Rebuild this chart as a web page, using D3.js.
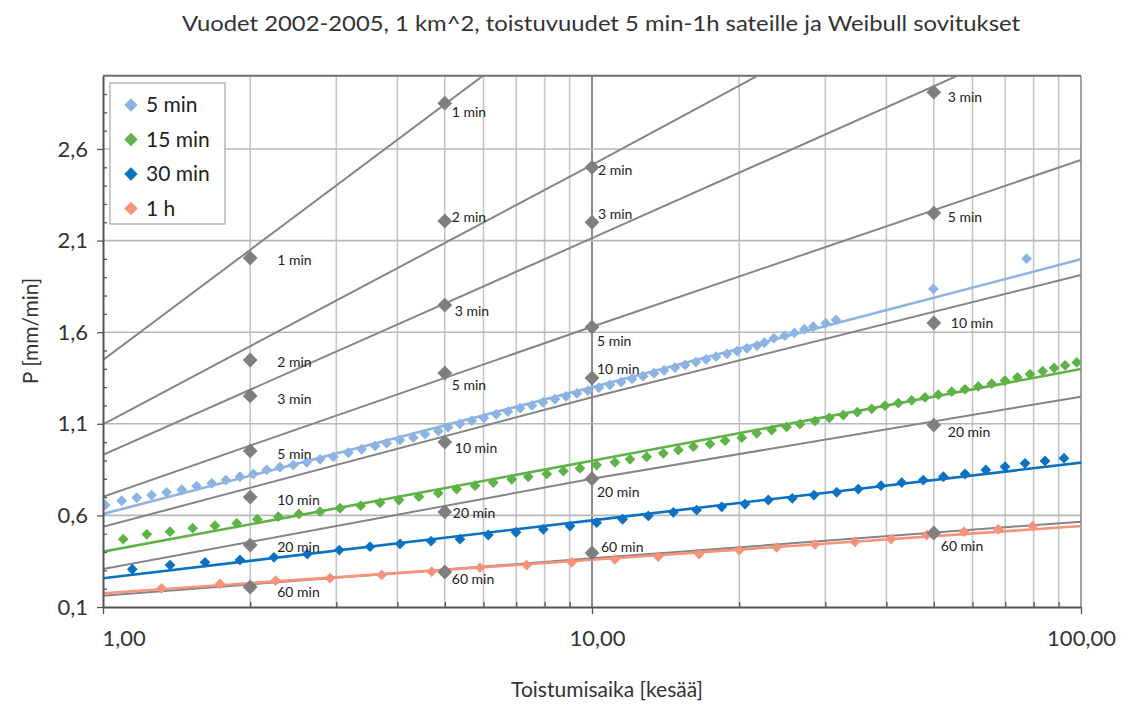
<!DOCTYPE html>
<html><head><meta charset="utf-8">
<script src="https://cdn.jsdelivr.net/npm/d3@7"></script>
<style>body{margin:0;background:#fff} svg{display:block} text{font-family:Lato,"Open Sans",sans-serif}</style>
</head><body><svg id="c" width="1124" height="705"></svg>
<script>
// ---------- DATA ----------
const titleText = "Vuodet 2002-2005, 1 km^2, toistuvuudet 5 min-1h sateille ja Weibull sovitukset";
const xTitle = "Toistumisaika [kesää]";
const yTitle = "P [mm/min]";
const xTickValues = [1, 10, 100];
const xTickLabels = ["1,00", "10,00", "100,00"];
const yTickValues = [0.1, 0.6, 1.1, 1.6, 2.1, 2.6];
const yTickLabels = ["0,1", "0,6", "1,1", "1,6", "2,1", "2,6"];

const seriesNames = ["5 min", "15 min", "30 min", "1 h"];
const pts5min = [[1.01,0.657],[1.092,0.680],[1.172,0.697],[1.257,0.711],[1.349,0.726],[1.449,0.740],[1.554,0.760],[1.669,0.775],[1.784,0.793],[1.906,0.811],[2.030,0.826],[2.161,0.848],[2.301,0.863],[2.449,0.875],[2.610,0.890],[2.779,0.906],[2.958,0.920],[3.175,0.942],[3.381,0.961],[3.600,0.979],[3.803,0.994],[4.049,1.012],[4.311,1.024],[4.556,1.043],[4.850,1.061],[5.08,1.081],
 [5.37,1.100],[5.68,1.117],[6.01,1.133],[6.37,1.152],[6.73,1.167],[7.13,1.185],[7.54,1.200],[7.94,1.217],[8.40,1.234],[8.85,1.250],[9.32,1.266],[9.81,1.281],[10.33,1.297],[10.88,1.313],[11.47,1.328],[12.07,1.345],[12.72,1.360],[13.39,1.376],[14.04,1.391],[14.78,1.406],[15.50,1.421],[16.32,1.437],[17.11,1.451],[17.93,1.466],[18.88,1.482],[19.80,1.497],[20.75,1.512],[21.75,1.527],
 [22.51,1.543],[23.56,1.567],[24.81,1.581],[25.93,1.596],[27.18,1.616],[28.35,1.630],[30.06,1.649],[31.55,1.667],[49.9,1.836],[77.4,2.001]];
const pts15min = [[1.100,0.470],[1.229,0.497],[1.371,0.511],[1.525,0.530],[1.694,0.544],[1.877,0.557],[2.068,0.579],[2.283,0.593],[2.516,0.608],[2.778,0.620],[3.053,0.639],[3.365,0.653],[3.686,0.669],[4.031,0.684],[4.428,0.702],[4.850,0.721],
 [5.288,0.744],[5.765,0.762],[6.284,0.779],[6.853,0.797],[7.407,0.811],[8.08,0.826],[8.74,0.842],[9.45,0.857],[10.22,0.875],[11.14,0.890],[11.96,0.906],[12.94,0.920],[13.99,0.939],[15.02,0.957],[16.12,0.975],[17.43,0.990],[18.71,1.008],[20.24,1.024],[21.72,1.048],[23.31,1.066],
 [25.0,1.083],[26.63,1.098],[28.58,1.115],[30.57,1.132],[32.66,1.148],[34.87,1.164],[37.33,1.182],[39.73,1.199],[42.31,1.213],[45.06,1.228],[47.97,1.244],[51.08,1.259],[54.41,1.275],[57.93,1.288],[61.66,1.304],[65.67,1.319],[69.9,1.336],[74.1,1.353],[78.65,1.371],[83.5,1.388],[88.1,1.405],[92.8,1.419],[98.0,1.435]];
const pts30min = [[1.148,0.306],[1.371,0.329],[1.617,0.344],[1.906,0.357],[2.237,0.371],[2.617,0.389],[3.042,0.411],[3.516,0.429],[4.05,0.444],[4.687,0.460],
 [5.37,0.470],[6.137,0.493],[6.993,0.508],[7.951,0.524],[9.017,0.542],[10.22,0.560],[11.55,0.579],[13.04,0.597],[14.67,0.617],[16.37,0.629],[18.42,0.647],[20.55,0.662],[22.94,0.684],
 [25.68,0.693],[28.44,0.711],[31.65,0.726],[35.04,0.744],[38.99,0.762],[42.99,0.779],[47.59,0.793],[52.30,0.811],[57.93,0.826],[63.86,0.848],[69.92,0.866],[76.83,0.884],[84.41,0.897],[92.3,0.912]];
const pts1h = [[1.318,0.202],[1.735,0.226],[2.255,0.244],[2.912,0.257],[3.715,0.275],[4.701,0.293],[5.902,0.315],[7.351,0.329],[9.09,0.344],[11.14,0.360],[13.66,0.375],[16.57,0.389],[20.01,0.411],[23.86,0.426],[28.58,0.442],[34.5,0.456],[40.88,0.471],[48.35,0.493],[57.65,0.511],[67.76,0.524],[79.63,0.542]];

// Weibull fit lines for the series, values at T = 1, 10, 100
const fitT = [1, 10, 100];
const fit5min = [0.608, 1.300, 1.998];
const fit15min = [0.402, 0.898, 1.399];
const fit30min = [0.257, 0.573, 0.888];
const fit1h = [0.175, 0.358, 0.542];

// reference durations (gray)
const refNames = ["1 min", "2 min", "3 min", "5 min", "10 min", "20 min", "60 min"];
const refFit = [[1.448, 3.445, 5.44],[1.097, 2.513, 3.95],[0.930, 2.113, 3.30],[0.702, 1.630, 2.54],[0.538, 1.245, 1.912],[0.307, 0.800, 1.248],[0.162, 0.366, 0.566]];
const refT = [2, 5, 10, 50];
const refPts = [[2.005, 2.85, null, null],[1.448, 2.207, 2.50, null],[1.252, 1.748, 2.20, 2.91],[0.952, 1.377, 1.628, 2.25],[0.70, 1.00, 1.35, 1.65],[0.438, 0.619, 0.80, 1.093],[0.209, 0.291, 0.395, 0.504]];

// ---------- STYLE / LAYOUT ----------
const colors = ["#8db3e2", "#5fb247", "#0a72c0", "#f7937a"];
const grayCol = "#858585";
const L = 103, R = 1081, TOP = 75.7, B = 607;
const svg = d3.select("#c");
svg.append("rect").attr("width",1124).attr("height",705).attr("fill","#fff");

const x = d3.scaleLog().domain([1,100]).range([L,R]);
const y = d3.scaleLinear().domain([0.1,3.0]).range([B,TOP]);

svg.append("text").attr("x",601).attr("y",31).attr("text-anchor","middle")
  .attr("font-size",21).attr("fill","#333").attr("textLength",838).attr("lengthAdjust","spacingAndGlyphs").text(titleText);

svg.append("clipPath").attr("id","clip").append("rect").attr("x",L).attr("y",TOP).attr("width",R-L).attr("height",B-TOP);

// grid
const minorX = [2,3,4,5,6,7,8,9,20,30,40,50,60,70,80,90];
const grid = svg.append("g");
grid.selectAll("line.vx").data(minorX).join("line")
  .attr("x1",d=>x(d)).attr("x2",d=>x(d)).attr("y1",TOP).attr("y2",B)
  .attr("stroke","#c6c6c6").attr("stroke-width",1.6);
grid.append("line").attr("x1",x(10)).attr("x2",x(10)).attr("y1",TOP).attr("y2",B)
  .attr("stroke","#8a8a8a").attr("stroke-width",2);
grid.selectAll("line.hy").data(yTickValues.slice(1)).join("line")
  .attr("x1",L).attr("x2",R).attr("y1",d=>y(d)).attr("y2",d=>y(d))
  .attr("stroke","#b8b8b8").attr("stroke-width",1.6);
svg.append("line").attr("x1",L).attr("x2",R).attr("y1",TOP).attr("y2",TOP).attr("stroke","#6e6e6e").attr("stroke-width",2);
svg.append("line").attr("x1",R).attr("x2",R).attr("y1",TOP).attr("y2",B).attr("stroke","#8a8a8a").attr("stroke-width",1.6);

const plot = svg.append("g").attr("clip-path","url(#clip)");
const line = d3.line().x(d=>x(d[0])).y(d=>y(d[1]));

// gray reference lines
refFit.forEach(v=>{
  plot.append("path").datum(fitT.map((t,i)=>[t,v[i]])).attr("d",line)
    .attr("fill","none").attr("stroke",grayCol).attr("stroke-width",2);
});
// series fits and points
const fits = [fit5min, fit15min, fit30min, fit1h];
const pts = [pts5min, pts15min, pts30min, pts1h];
const diamond = (s)=>d3.symbol().type(d3.symbolSquare).size(s)();
fits.forEach((v,k)=>{
  plot.append("path").datum(fitT.map((t,i)=>[t,v[i]])).attr("d",line)
    .attr("fill","none").attr("stroke",colors[k]).attr("stroke-width",2.6);
});
pts.forEach((arr,k)=>{
  plot.append("g").selectAll("path").data(arr).join("path")
    .attr("d",diamond(58))
    .attr("transform",d=>`translate(${x(d[0])},${y(d[1])}) rotate(45)`)
    .attr("fill",colors[k]);
});

// gray reference points and labels
const labelNudge = {
  "2":  [[27,2],[27,2],[27,3],[27,3],[27,3],[27,2],[27,5]],
  "5":  [[7,9],[7,-4],[10,6],[7,12],[10,6],[8,1],[7,7]],
  "10": [[6,3],[6,3],[6,-8],[5,14],[5,-9],[5,13],[9,-6]],
  "50": [[14,5],[14,5],[14,5],[14,4],[17,0],[14,7],[7,13]]
};
const gp = svg.append("g");
refNames.forEach((name,i)=>{
  refT.forEach((t,j)=>{
    const v = refPts[i][j];
    if(v==null) return;
    gp.append("path").attr("d",diamond(110))
      .attr("transform",`translate(${x(t)},${y(v)}) rotate(45)`).attr("fill","#7f7f7f");
    const nd = labelNudge[String(t)][i];
    gp.append("text").attr("x",x(t)+nd[0]).attr("y",y(v)+nd[1]).attr("dy","0.35em")
      .attr("font-size",14).attr("fill","#222").text(name);
  });
});

// axes
const ax = svg.append("g");
const yAxis = d3.axisLeft(y).tickValues(yTickValues).tickSize(6).tickSizeOuter(0).tickPadding(9)
  .tickFormat((d,i)=>yTickLabels[i]);
const gy = ax.append("g").attr("transform",`translate(${L},0)`).call(yAxis);
const yMinor = d3.range(2,30).map(i=>i/10).filter(v=>!yTickValues.some(t=>Math.abs(t-v)<1e-6));
ax.append("g").attr("transform",`translate(${L},0)`)
  .call(d3.axisLeft(y).tickValues(yMinor).tickSize(-4).tickSizeOuter(0).tickFormat(""))
  .call(g=>g.select(".domain").remove());
gy.selectAll("text").attr("font-size",22).attr("fill","#333").style("font-family","Lato");

const xAxis = d3.axisBottom(x).tickValues(xTickValues).tickSize(7).tickSizeOuter(0).tickPadding(16)
  .tickFormat((d,i)=>xTickLabels[i]);
const gx = ax.append("g").attr("transform",`translate(0,${B})`).call(xAxis);
ax.append("g").attr("transform",`translate(0,${B})`)
  .call(d3.axisBottom(x).tickValues(minorX).tickSize(-5).tickSizeOuter(0).tickFormat(""))
  .call(g=>g.select(".domain").remove());
gx.selectAll("text").attr("font-size",22).attr("fill","#333").style("font-family","Lato");
gx.selectAll("text").filter((d,i)=>i===0).attr("text-anchor","start").attr("dx",-1);
gx.selectAll("text").filter((d,i)=>i===1).attr("dx",5);
ax.selectAll(".domain").attr("stroke","#555").attr("stroke-width",2);
ax.selectAll(".tick line").attr("stroke","#555").attr("stroke-width",1.3);

// axis titles
svg.append("text").attr("x",607).attr("y",697).attr("text-anchor","middle")
  .attr("font-size",21).attr("fill","#333").text(xTitle);
svg.append("text").attr("transform","translate(38,331) rotate(-90)").attr("text-anchor","middle")
  .attr("font-size",21).attr("fill","#333").text(yTitle);

// legend
const lg = svg.append("g");
lg.append("rect").attr("x",110).attr("y",83).attr("width",115).attr("height",141)
  .attr("fill","#fff").attr("stroke","#a6a6a6").attr("stroke-width",1.2);
seriesNames.forEach((n,i)=>{
  const cy = 105 + i*34.5;
  lg.append("path").attr("d",diamond(90)).attr("transform",`translate(131,${cy}) rotate(45)`).attr("fill",colors[i]);
  lg.append("text").attr("x",146).attr("y",cy).attr("dy","0.35em").attr("font-size",21).attr("fill","#222").text(n);
});
</script></body></html>
